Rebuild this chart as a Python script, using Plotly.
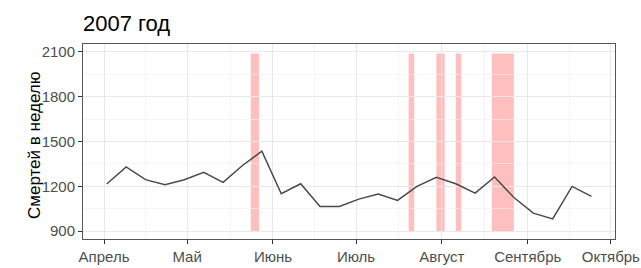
import plotly.graph_objects as go
import pandas as pd

# ---- data ----
week_start = "2007-04-02"
n_weeks = 26
deaths = [1216, 1331, 1245, 1211, 1245, 1294, 1227, 1340, 1436, 1151, 1218, 1065, 1065,
          1115, 1149, 1106, 1200, 1261, 1218, 1155, 1263, 1126, 1021, 982, 1200, 1133]
band_start = ["2007-05-24", "2007-07-20", "2007-07-30", "2007-08-06", "2007-08-19"]
band_end = ["2007-05-27", "2007-07-22", "2007-08-02", "2007-08-08", "2007-08-27"]
band_low = 900
band_high = 2090
month_ticks = ["2007-04-01", "2007-05-01", "2007-06-01", "2007-07-01", "2007-08-01", "2007-09-01", "2007-10-01"]
month_labels = ["Апрель", "Май", "Июнь", "Июль", "Август", "Сентябрь", "Октябрь"]
month_minor = ["2007-04-16", "2007-05-16 12:00", "2007-06-16", "2007-07-16 12:00", "2007-08-16 12:00", "2007-09-16"]
y_ticks = [900, 1200, 1500, 1800, 2100]
y_minor = [1050, 1350, 1650, 1950]
title_text = "2007 год"
y_title = "Смертей в неделю"

dates = pd.date_range(week_start, periods=n_weeks, freq="7D")

FONT = "Liberation Sans, Arial, sans-serif"

fig = go.Figure()
fig.add_trace(go.Scatter(x=dates, y=deaths, mode="lines",
                         line=dict(color="#4a4a4a", width=1.5), hoverinfo="skip",
                         showlegend=False))

for s, e in zip(band_start, band_end):
    fig.add_shape(type="rect", xref="x", yref="y", x0=s, x1=e, y0=band_low, y1=band_high,
                  fillcolor="rgba(255,0,0,0.25)", line=dict(width=0), layer="below")

fig.update_layout(
    template="none",
    width=641, height=268,
    margin=dict(l=83, r=26, t=44, b=29, autoexpand=False),
    paper_bgcolor="white", plot_bgcolor="white",
    font=dict(family=FONT, color="#4d4d4d", size=15),
    title=dict(text=title_text, x=83/641, xanchor="left", xref="container",
               y=1 - 23.5/268, yanchor="middle", yref="container",
               font=dict(size=22, color="black", family=FONT)),
    showlegend=False,
)

fig.update_xaxes(
    type="date", range=["2007-03-24 10:00", "2007-10-02 12:00"], automargin=False,
    tickmode="array", tickvals=month_ticks, ticktext=month_labels,
    ticks="outside", ticklen=4, tickcolor="#333333", tickwidth=1,
    showgrid=True, gridcolor="#e8e8e8", gridwidth=1,
    minor=dict(tickvals=month_minor, showgrid=True, gridcolor="#efefef", gridwidth=0.6, ticks=""),
    showline=True, linecolor="#555555", linewidth=1, mirror=True,
    zeroline=False, tickfont=dict(size=15, color="#4d4d4d"),
)
fig.update_yaxes(
    range=[848, 2153], automargin=False,
    tickmode="array", tickvals=y_ticks,
    ticks="outside", ticklen=4, tickcolor="#333333", tickwidth=1,
    showgrid=True, gridcolor="#e8e8e8", gridwidth=1,
    minor=dict(tickvals=y_minor, showgrid=True, gridcolor="#efefef", gridwidth=0.6, ticks=""),
    showline=True, linecolor="#555555", linewidth=1, mirror=True,
    zeroline=False, tickfont=dict(size=15, color="#4d4d4d"),
)

fig.add_annotation(text=y_title, xref="paper", yref="paper",
                   x=(34 - 83) / 532, y=(239 - 145) / 195,
                   xanchor="center", yanchor="middle", textangle=-90, showarrow=False,
                   font=dict(size=17, color="black", family=FONT))

fig.write_html("out.html", config={"displayModeBar": False, "staticPlot": True},
               post_script="document.body.style.margin='0';document.body.style.overflow='hidden';")
